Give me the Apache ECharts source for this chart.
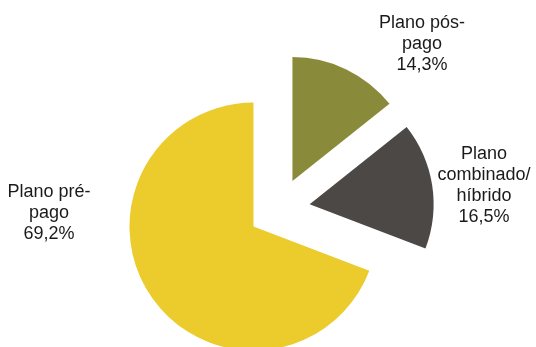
<!DOCTYPE html>
<html>
<head>
<meta charset="utf-8">
<script src="https://cdn.jsdelivr.net/npm/echarts@6/dist/echarts.min.js"></script>
<style>
  html, body { margin: 0; padding: 0; background: #fff; }
  #chart { width: 536px; height: 347px; }
</style>
</head>
<body>
<div id="chart"></div>
<script>
  // dados
  const categories = ["Plano pós-\npago", "Plano\ncombinado/\nhíbrido", "Plano pré-\npago"];
  const values = [14.3, 16.5, 69.2];
  const colors = ["#8A8B3A", "#4C4846", "#ECCB2C"];
  // posição dos rótulos (centro do bloco de texto)
  const labelPos = [[422, 44], [484, 186], [49, 213]];

  const fmt = v => v.toFixed(1).replace(".", ",") + "%";

  const chart = echarts.init(document.getElementById("chart"));

  const option = {
    animation: false,
    // rótulos como texto real, posicionados à mão
    graphic: categories.map((name, i) => ({
      type: "text",
      x: labelPos[i][0],
      y: labelPos[i][1],
      silent: true,
      style: {
        text: name + "\n" + fmt(values[i]),
        fill: "#1a1a1a",
        font: '18px "Liberation Sans", Arial, sans-serif',
        lineHeight: 21,
        align: "center",
        verticalAlign: "middle",
      },
    })),
    series: [
      {
        type: "pie",
        center: [279, 209],
        radius: 124,
        startAngle: 90,
        clockwise: true,
        selectedMode: "multiple",
        selectedOffset: 31,
        silent: true,
        label: { show: false },
        labelLine: { show: false },
        select: { itemStyle: { borderWidth: 0 } },
        data: values.map((v, i) => ({
          name: categories[i],
          value: v,
          selected: true,
          itemStyle: { color: colors[i] },
        })),
      },
    ],
  };

  chart.setOption(option);
</script>
</body>
</html>
